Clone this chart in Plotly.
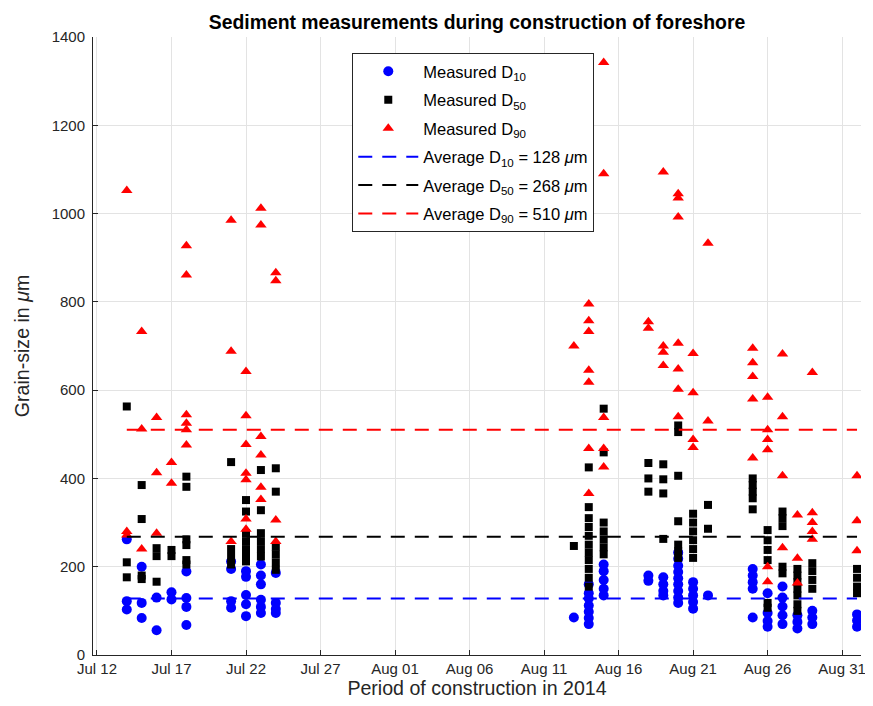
import plotly.graph_objects as go

# ---------------- data ----------------
dates = ["2014-07-14", "2014-07-15", "2014-07-16", "2014-07-17", "2014-07-18",
         "2014-07-21", "2014-07-22", "2014-07-23", "2014-07-24",
         "2014-08-13", "2014-08-14", "2014-08-15", "2014-08-18", "2014-08-19",
         "2014-08-20", "2014-08-21", "2014-08-22", "2014-08-25", "2014-08-26",
         "2014-08-27", "2014-08-28", "2014-08-29", "2014-09-01"]

d10_values = [
    [262, 122, 103], [200, 118, 84], [130, 56], [142, 126], [189, 129, 109, 68],
    [212, 195, 122, 107], [190, 177, 136, 115, 88], [205, 180, 160, 125, 109, 95],
    [186, 118, 104, 95],
    [85], [160, 140, 128, 112, 98, 84, 70], [205, 190, 170, 150, 135], [180, 168],
    [176, 160, 145, 135], [232, 218, 202, 188, 174, 160, 145, 130, 118],
    [165, 150, 135, 120, 105], [135], [195, 180, 165, 150, 85], [140, 95, 77, 64],
    [155, 130, 110, 90, 70], [90, 75, 60], [100, 85, 70], [92, 78, 64]]

d50_values = [
    [563, 210, 176], [385, 308, 180, 172], [242, 224, 166], [238, 224],
    [404, 381, 262, 249, 215, 205], [437, 240, 222, 205],
    [351, 325, 276, 258, 240, 222, 212], [419, 328, 276, 258, 240, 223],
    [423, 370, 245, 228, 210, 193],
    [247], [425, 335, 310, 290, 270, 250, 232, 215, 195, 175, 155],
    [558, 459, 300, 280, 262, 244, 228], [435, 400, 370], [432, 398, 366, 263],
    [520, 505, 406, 303, 250, 235, 220], [320, 300, 280, 260, 240, 220], [340, 286],
    [400, 385, 370, 355, 330], [283, 260, 238, 215, 118, 107],
    [325, 310, 292, 200, 185], [195, 180, 165, 150, 135, 115, 100],
    [208, 190, 170, 150], [195, 175, 155, 140]]

d90_values = [
    [1052, 280, 272], [733, 512, 240], [538, 413, 276], [436, 389],
    [927, 861, 544, 525, 510, 476], [985, 688, 257],
    [642, 542, 477, 412, 397, 308, 285], [1012, 974, 495, 453, 380, 352],
    [866, 848, 306, 257],
    [700], [795, 757, 733, 645, 618, 468, 366], [1342, 1090, 538, 468, 426],
    [755, 740], [1094, 700, 686, 656], [1045, 1035, 992, 706, 648, 602, 540],
    [683, 594, 488, 470], [933, 530], [695, 662, 631, 580, 446],
    [584, 510, 488, 465, 200, 166], [682, 540, 406, 243], [317, 219, 163],
    [640, 322, 300, 280, 262], [406, 304, 236]]

averages = [128, 268, 510]
average_labels = ["10", "50", "90"]

tick_dates = ["2014-07-12", "2014-07-17", "2014-07-22", "2014-07-27", "2014-08-01",
              "2014-08-06", "2014-08-11", "2014-08-16", "2014-08-21", "2014-08-26",
              "2014-08-31"]
tick_text = ["Jul 12", "Jul 17", "Jul 22", "Jul 27", "Aug 01", "Aug 06", "Aug 11",
             "Aug 16", "Aug 21", "Aug 26", "Aug 31"]
y_ticks = [0, 200, 400, 600, 800, 1000, 1200, 1400]


def flatten(values):
    xs, ys = [], []
    for d, vals in zip(dates, values):
        for v in vals:
            xs.append(d)
            ys.append(v)
    return xs, ys


FONT = "Liberation Sans, Arial, Helvetica, sans-serif"
AX = "#262626"

fig = go.Figure()

series = [
    (d10_values, "Measured D<sub>10</sub>", "circle", "#0000ff", 10),
    (d50_values, "Measured D<sub>50</sub>", "square", "#000000", 8),
    (d90_values, "Measured D<sub>90</sub>", "triangle-up", "#ff0000", 10),
]
for i, (vals, name, sym, col, size) in enumerate(series):
    xs, ys = flatten(vals)
    fig.add_trace(go.Scatter(
        x=xs, y=ys, mode="markers", name=name, legendgroup=f"g{i}",
        marker=dict(symbol=sym, color=col, size=size, line=dict(width=0)),
    ))

line_cols = ["#0000ff", "#000000", "#ff0000"]
for i, (avg, lab, col) in enumerate(zip(averages, average_labels, line_cols)):
    fig.add_trace(go.Scatter(
        x=[dates[0], dates[-1]], y=[avg, avg], mode="lines", legendgroup=f"a{i}",
        name=f"Average D<sub>{lab}</sub> = {avg} <i>μ</i>m",
        line=dict(color=col, width=2, dash="14px,10px"),
    ))

axis_common = dict(
    showgrid=True, gridcolor="#e3e3e3", gridwidth=1,
    ticks="inside", ticklen=5, tickcolor=AX, tickwidth=1,
    showline=True, linecolor=AX, linewidth=1, mirror=False,
    zeroline=False,
    tickfont=dict(family=FONT, size=15, color=AX),
)

# page has an 8px body margin, so the figure is drawn 8px smaller
W, H = 865, 698
fig.update_layout(
    width=W, height=H,
    margin=dict(l=85, r=7, t=29, b=51),
    paper_bgcolor="white", plot_bgcolor="white",
    font=dict(family=FONT, color=AX),
    title=dict(
        text="<b>Sediment measurements during construction of foreshore</b>",
        x=0.5, xref="paper", y=1 - 14 / H, yref="container",
        xanchor="center", yanchor="middle",
        font=dict(family=FONT, size=19.4, color="#000000"),
    ),
    xaxis=dict(
        type="date",
        range=["2014-07-11 17:36", "2014-09-01 06:24"],
        tickmode="array", tickvals=tick_dates, ticktext=tick_text,
        title=dict(text="Period of construction in 2014",
                   font=dict(family=FONT, size=19.6, color=AX), standoff=3),
        **axis_common,
    ),
    yaxis=dict(
        range=[0, 1400], tickmode="array", tickvals=y_ticks,
        ticklabelstandoff=4,
        title=dict(text="Grain-size in <i>μ</i>m",
                   font=dict(family=FONT, size=19.6, color=AX), standoff=16),
        **axis_common,
    ),
    legend=dict(
        x=0.3376, y=0.974, xanchor="left", yanchor="top",
        bgcolor="white", bordercolor=AX, borderwidth=1,
        font=dict(family=FONT, size=16.5, color="#000000"),
        itemwidth=60, tracegroupgap=4,
    ),
    showlegend=True,
)

fig.write_html("out.html")
